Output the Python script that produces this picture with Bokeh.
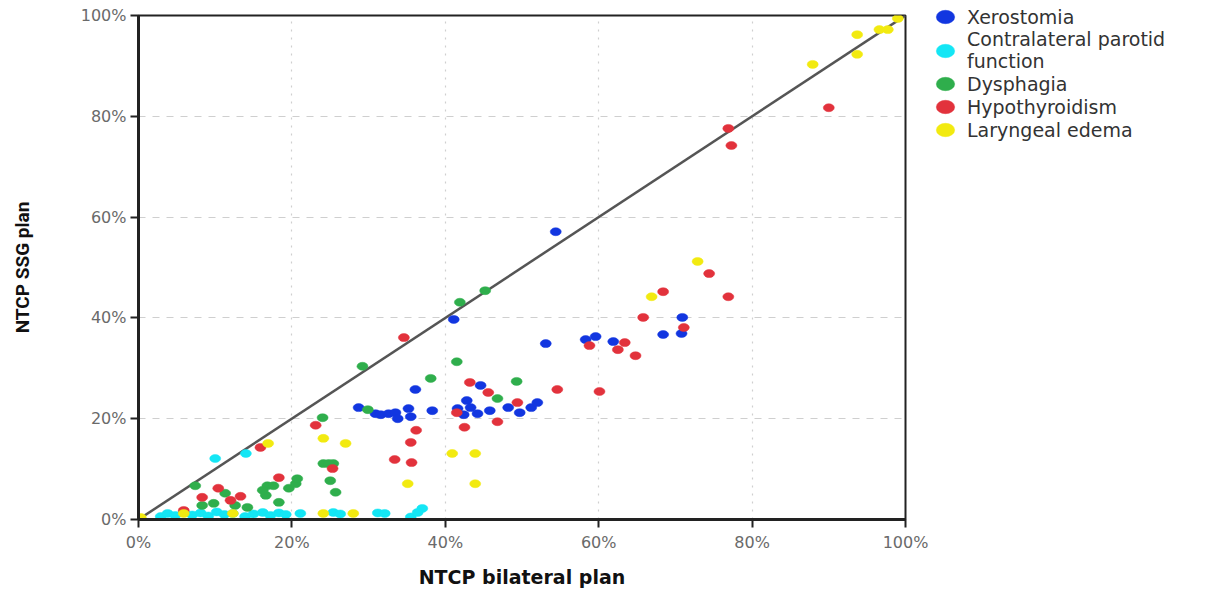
from bokeh.plotting import figure
from bokeh.models import Range1d, Legend, LegendItem, PrintfTickFormatter, FixedTicker
from bokeh.embed import file_html
from bokeh.resources import INLINE

# ---- data (percent) ----
xero_x = [54.4, 41.1, 53.1, 58.3, 59.6, 61.9, 68.4, 70.9, 70.8, 28.7, 30.9, 31.6, 32.6, 33.5, 33.8,
          35.2, 35.5, 36.1, 38.3, 41.6, 42.8, 43.3, 42.4, 44.2, 44.6, 45.8, 48.2, 49.7, 51.2, 52.0]
xero_y = [57.1, 39.7, 34.9, 35.7, 36.3, 35.3, 36.7, 40.1, 36.9, 22.2, 21.0, 20.8, 21.0, 21.2, 20.0,
          22.0, 20.4, 25.8, 21.6, 22.0, 23.6, 22.2, 20.8, 21.0, 26.6, 21.6, 22.2, 21.2, 22.2, 23.2]

paro_x = [10.0, 14.0, 37.0, 2.9, 3.8, 4.8, 5.9, 7.0, 8.1, 9.1, 10.2, 11.2, 12.3, 13.9, 15.0, 16.2,
          17.2, 18.3, 19.2, 21.1, 25.4, 26.3, 31.2, 32.1, 35.5, 36.4]
paro_y = [12.1, 13.1, 2.2, 0.6, 1.2, 0.8, 1.4, 0.9, 1.3, 0.7, 1.5, 1.0, 1.2, 0.6, 1.1, 1.4,
          0.8, 1.3, 1.0, 1.2, 1.4, 1.1, 1.3, 1.2, 0.5, 1.4]

dysp_x = [45.2, 41.9, 41.5, 29.2, 38.1, 49.3, 46.8, 29.9, 24.0, 24.1, 25.4, 25.0, 25.7, 16.8, 16.6,
          18.3, 19.6, 20.5, 20.7, 17.6, 7.4, 11.3, 9.8, 8.3, 12.6, 14.2, 16.2, 24.8]
dysp_y = [45.4, 43.1, 31.3, 30.4, 28.0, 27.4, 24.0, 21.8, 20.2, 11.1, 11.1, 7.7, 5.4, 6.7, 4.8,
          3.4, 6.2, 7.1, 8.1, 6.7, 6.7, 5.2, 3.2, 2.8, 2.8, 2.4, 5.8, 11.1]

hypo_x = [76.9, 77.3, 90.0, 76.9, 74.4, 68.4, 65.8, 71.1, 58.8, 63.4, 62.5, 64.8, 54.6, 60.1, 34.6,
          43.2, 45.6, 49.4, 41.5, 46.8, 42.5, 36.2, 35.5, 33.4, 35.6, 25.3, 23.1, 15.9, 18.3, 10.4,
          8.3, 12.0, 13.3, 5.9]
hypo_y = [77.6, 74.2, 81.7, 44.2, 48.8, 45.2, 40.1, 38.1, 34.5, 35.1, 33.7, 32.5, 25.8, 25.4, 36.1,
          27.2, 25.2, 23.2, 21.2, 19.4, 18.3, 17.7, 15.3, 11.9, 11.3, 10.1, 18.7, 14.3, 8.3, 6.2,
          4.4, 3.8, 4.6, 1.8]

lary_x = [99.0, 96.6, 97.7, 93.7, 93.7, 87.9, 72.9, 66.9, 35.1, 40.9, 43.9, 43.9, 24.1, 27.0, 16.9,
          24.1, 28.0, 5.9, 12.3, 0.3]
lary_y = [99.4, 97.2, 97.2, 96.2, 92.3, 90.3, 51.2, 44.2, 7.1, 13.1, 13.1, 7.1, 16.1, 15.1, 15.1,
          1.2, 1.2, 1.2, 1.2, 0.4]

identity = [0, 100]
ticks = [0, 20, 40, 60, 80, 100]

series = [
    ("Xerostomia", xero_x, xero_y, "#1236e0"),
    ("Contralateral parotid\nfunction", paro_x, paro_y, "#14e6f5"),
    ("Dysphagia", dysp_x, dysp_y, "#2fae4c"),
    ("Hypothyroidism", hypo_x, hypo_y, "#e2323c"),
    ("Laryngeal edema", lary_x, lary_y, "#f2ea10"),
]

p = figure(width=1217, height=582, output_backend="svg", toolbar_location=None,
           x_range=Range1d(0, 100), y_range=Range1d(0, 100),
           min_border_left=138, min_border_top=15, min_border_right=312, min_border_bottom=63,
           frame_width=767, frame_height=504)
p.background_fill_color = "white"
p.border_fill_color = "white"
p.outline_line_color = "#222222"
p.outline_line_width = 2

for g in (p.xgrid, p.ygrid):
    g.grid_line_color = "#cfcfcf"
    g.grid_line_width = 1.2
    g.ticker = FixedTicker(ticks=ticks)
p.xgrid.grid_line_dash = "2 6"
p.ygrid.grid_line_dash = "7 7"

p.line(identity, identity, line_color="#555555", line_width=2.5)

items = []
for name, xs, ys, col in series:
    r = p.ellipse(x=xs, y=ys, width=11, height=8, width_units="screen", height_units="screen",
                  fill_color=col, line_color=col, line_width=0.5)
    items.append(LegendItem(label=name, renderers=[r]))

for ax in (p.xaxis[0], p.yaxis[0]):
    ax.ticker = FixedTicker(ticks=ticks)
    ax.formatter = PrintfTickFormatter(format="%d%%")
    ax.axis_line_color = "#222222"
    ax.axis_line_width = 3
    ax.major_tick_line_color = "#222222"
    ax.major_tick_line_width = 2
    ax.major_tick_out = 8
    ax.major_tick_in = 0
    ax.minor_tick_line_color = None
    ax.major_label_text_font = "DejaVu Sans"
    ax.major_label_text_font_size = "16px"
    ax.major_label_text_color = "#6a6a6a"
    ax.axis_label_text_font_style = "bold"
    ax.axis_label_text_color = "#111111"

p.xaxis.axis_label = "NTCP bilateral plan"
p.xaxis.axis_label_text_font = "DejaVu Sans"
p.xaxis.axis_label_text_font_size = "19px"
p.xaxis.axis_label_standoff = 11
p.xaxis.major_label_standoff = 5

p.yaxis.axis_label = "NTCP SSG plan"
p.yaxis.axis_label_text_font = "Roboto"
p.yaxis.axis_label_text_font_size = "19px"
p.yaxis.axis_label_standoff = 44
p.yaxis.major_label_standoff = 4

legend = Legend(items=items, location=(25, 378))
legend.border_line_color = None
legend.background_fill_alpha = 0
legend.label_text_font = "DejaVu Sans"
legend.label_text_font_size = "19px"
legend.label_text_color = "#333333"
legend.glyph_width = 30
legend.glyph_height = 23
legend.label_height = 20
legend.spacing = 0
legend.label_standoff = 7
legend.padding = 0
legend.margin = 0
p.add_layout(legend, "right")

open("out.html", "w").write(file_html(p, INLINE))
